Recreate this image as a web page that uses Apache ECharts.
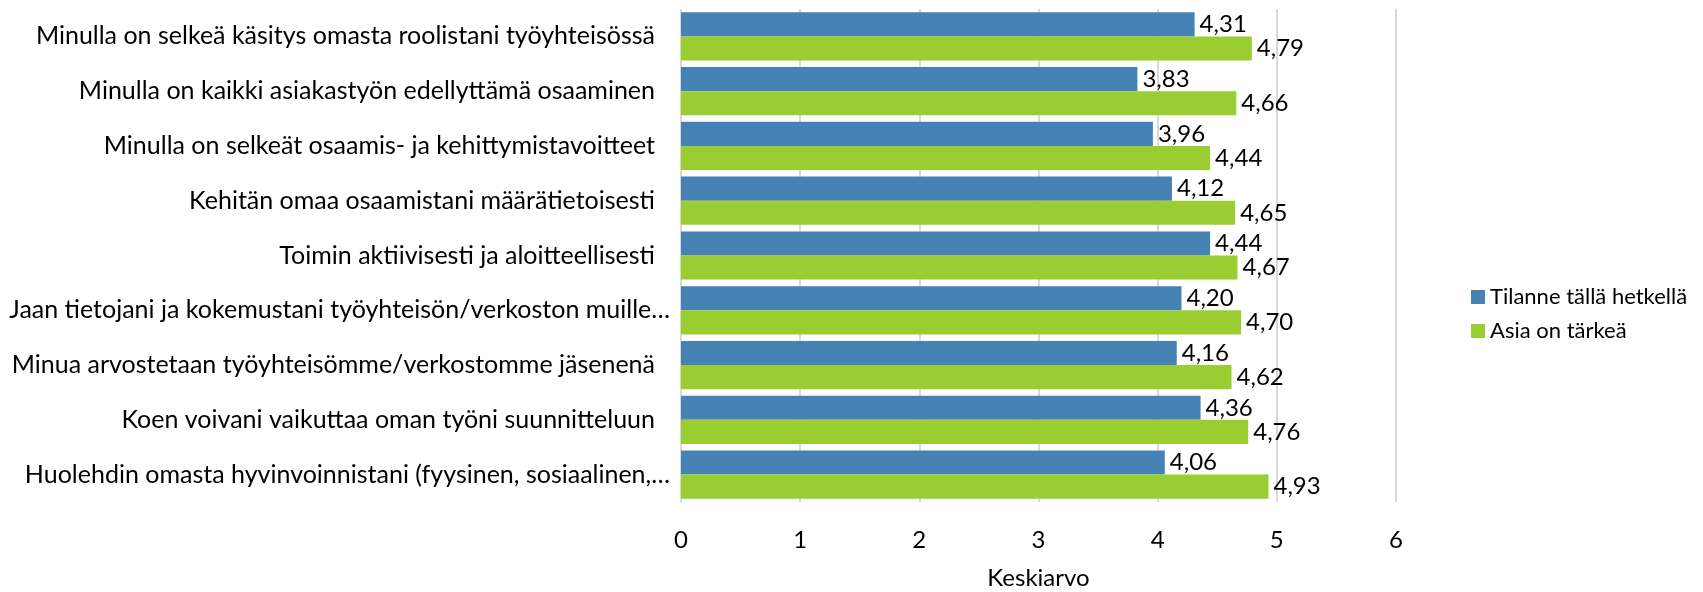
<!DOCTYPE html>
<html>
<head>
<meta charset="utf-8">
<title>Keskiarvo</title>
<script src="https://cdn.jsdelivr.net/npm/echarts@6/dist/echarts.min.js"></script>
<style>
  html, body { margin: 0; padding: 0; background: #fff; }
  #chart { width: 1703px; height: 592px; }
</style>
</head>
<body>
<div id="chart"></div>
<script>
const categories = [
  'Minulla on selkeä käsitys omasta roolistani työyhteisössä',
  'Minulla on kaikki asiakastyön edellyttämä osaaminen',
  'Minulla on selkeät osaamis- ja kehittymistavoitteet',
  'Kehitän omaa osaamistani määrätietoisesti',
  'Toimin aktiivisesti ja aloitteellisesti',
  'Jaan tietojani ja kokemustani työyhteisön/verkoston muille…',
  'Minua arvostetaan työyhteisömme/verkostomme jäsenenä',
  'Koen voivani vaikuttaa oman työni suunnitteluun',
  'Huolehdin omasta hyvinvoinnistani (fyysinen, sosiaalinen,…'
]
const nykyTilanne = [4.31, 3.83, 3.96, 4.12, 4.44, 4.20, 4.16, 4.36, 4.06]
const tarkeys = [4.79, 4.66, 4.44, 4.65, 4.67, 4.70, 4.62, 4.76, 4.93]
const seriesNames = ['Tilanne tällä hetkellä', 'Asia on tärkeä']
const xTicks = [0, 1, 2, 3, 4, 5, 6]

const font = 'Lato, "Liberation Sans", sans-serif'
const chart = echarts.init(document.getElementById('chart'))

const fmt = p => p.value.toFixed(2).replace('.', ',')

// excel leaves the cut-off labels a bit closer to the axis
const yData = categories.map(c => ({
  value: c,
  textStyle: { padding: c.endsWith('…') ? [0, 0, 0, 0] : [0, 15, 0, 0] }
}))

chart.setOption({
  animation: false,
  textStyle: { fontFamily: font, color: '#000' },
  legend: {
    data: seriesNames,
    orient: 'vertical',
    left: 1466,
    top: 281,
    itemWidth: 14,
    itemHeight: 14,
    itemGap: 12,
    icon: 'rect',
    textStyle: { fontSize: 22, color: '#000', fontFamily: font }
  },
  grid: {
    left: 681,
    right: 307,
    top: 9,
    bottom: 90,
    outerBoundsMode: 'none'
  },
  xAxis: {
    type: 'value',
    min: xTicks[0],
    max: xTicks[xTicks.length - 1],
    interval: 1,
    name: 'Keskiarvo',
    nameLocation: 'middle',
    nameGap: 64,
    nameTextStyle: { fontSize: 24, color: '#000', fontFamily: font },
    axisLine: { show: false },
    axisTick: { show: false },
    axisLabel: { fontSize: 24, color: '#000', margin: 26, fontFamily: font },
    splitLine: { lineStyle: { color: '#d9d9d9', width: 2 } }
  },
  yAxis: {
    type: 'category',
    data: yData,
    inverse: true,
    axisLine: { show: false },
    axisTick: { show: false },
    axisLabel: { fontSize: 25, color: '#000', margin: 11, fontFamily: font }
  },
  series: [
    {
      name: seriesNames[0],
      type: 'bar',
      data: nykyTilanne,
      barGap: '0%',
      barCategoryGap: '12%',
      itemStyle: { color: '#4682b4' },
      label: { show: true, position: 'right', distance: 5, fontSize: 24, color: '#000', formatter: fmt }
    },
    {
      name: seriesNames[1],
      type: 'bar',
      data: tarkeys,
      barGap: '0%',
      barCategoryGap: '12%',
      itemStyle: { color: '#9acd32' },
      label: { show: true, position: 'right', distance: 5, fontSize: 24, color: '#000', formatter: fmt }
    }
  ]
})
</script>
</body>
</html>
